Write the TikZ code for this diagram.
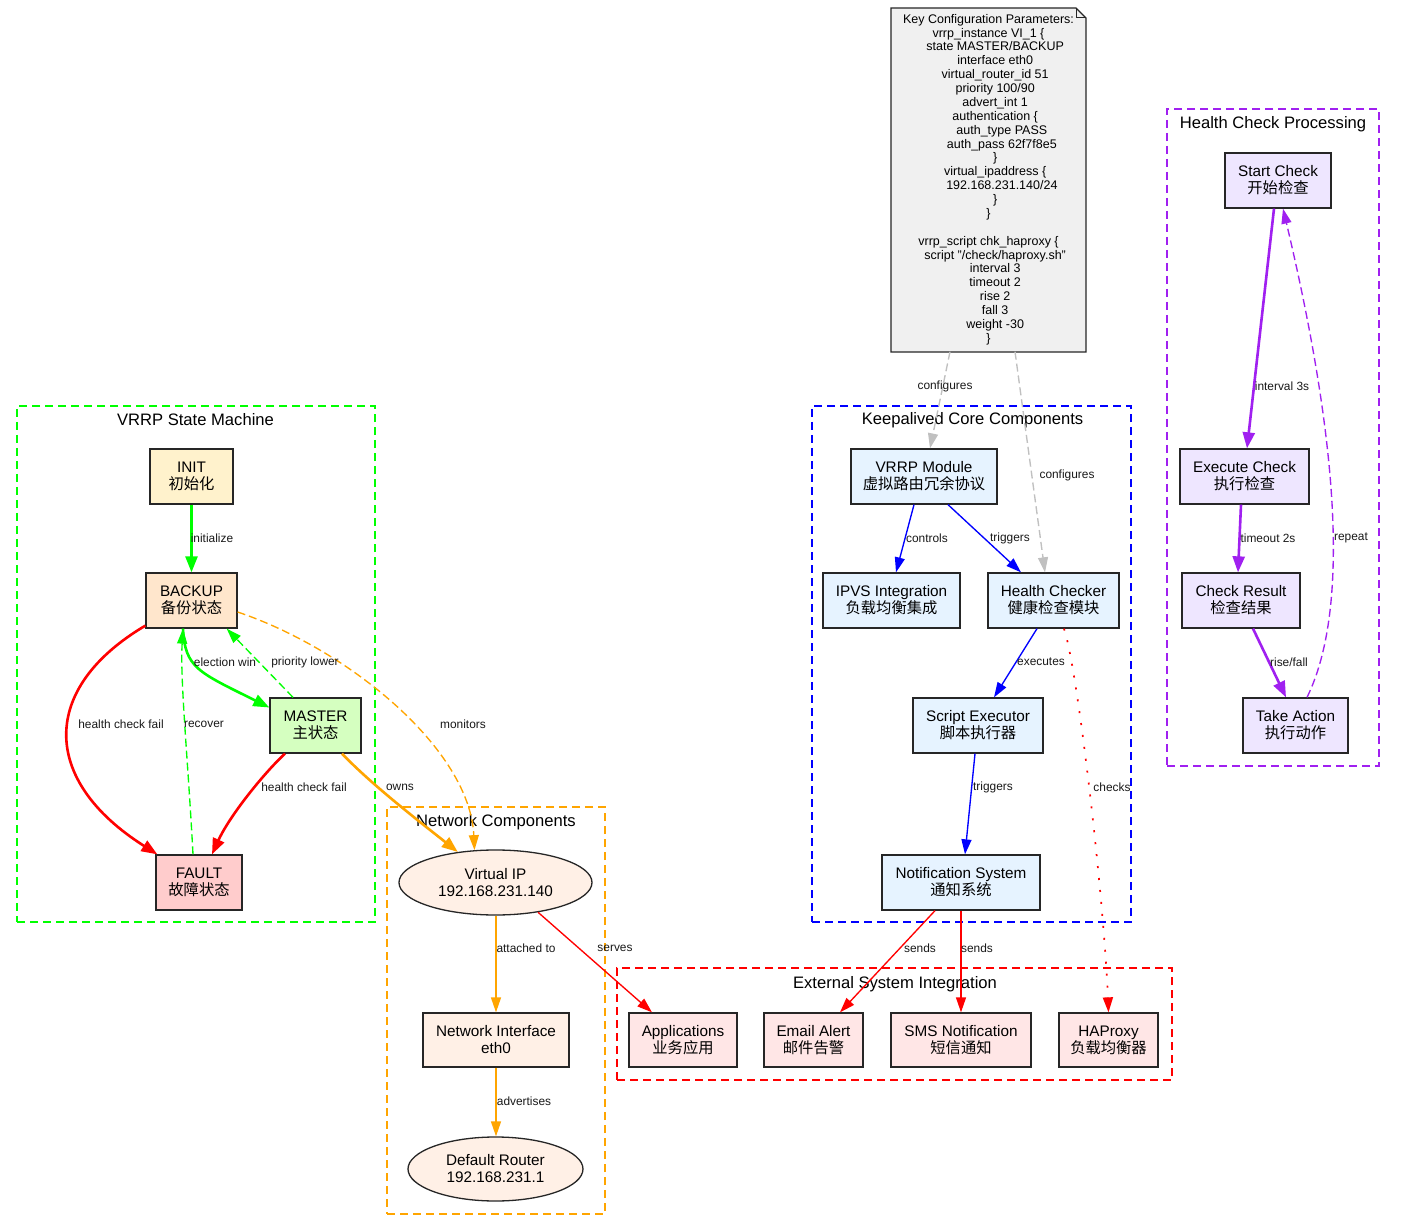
\documentclass[tikz,border=0pt]{standalone}
\usepackage{fontspec}
\setmainfont{Liberation Sans}
\newfontfamily\cjk{Noto Sans CJK SC}
\usetikzlibrary{arrows.meta,shapes.geometric}
\newcommand\nfont{\fontsize{15.3}{17}\selectfont}
\newcommand\tfont{\fontsize{16.6}{19}\selectfont}
\newcommand\lfont{\fontsize{11.9}{13}\selectfont}
\newcommand\cfgfont{\fontsize{12.5}{13.87}\selectfont}
\newcommand\ind[1]{\hspace*{#1pt}}
\definecolor{gGreen}{HTML}{00FF00}
\definecolor{gBlue}{HTML}{0000FF}
\definecolor{gRed}{HTML}{FF0000}
\definecolor{gOrange}{HTML}{FFA500}
\definecolor{gPurple}{HTML}{A020F0}
\definecolor{gGray}{HTML}{C0C0C0}
\definecolor{fInit}{HTML}{FFF2CC}
\definecolor{fBackup}{HTML}{FFE6CC}
\definecolor{fMaster}{HTML}{D5FFC0}
\definecolor{fFault}{HTML}{FFCCCC}
\definecolor{fCore}{HTML}{E6F3FF}
\definecolor{fHealth}{HTML}{EEE6FF}
\definecolor{fNet}{HTML}{FFF0E6}
\definecolor{fExt}{HTML}{FFE6E6}
\definecolor{fNote}{HTML}{F0F0F0}
\tikzset{
  box/.style={rectangle, draw=black!85, line width=1.3pt, fill=#1, minimum height=55pt,
    inner sep=0pt, align=center, font=\nfont},
  oval/.style={ellipse, draw=black!85, line width=1.3pt, fill=#1, inner sep=0pt,
    align=center, font=\nfont},
  cluster/.style={rectangle, draw=#1, line width=1.1pt, dash pattern=on 8pt off 5pt, inner sep=0pt},
  cltitle/.style={font=\tfont, inner sep=0pt},
  lbl/.style={font=\lfont, inner sep=0pt, text=black!90},
  ethin/.style={draw=#1, line width=1.35pt, -{Triangle[length=15pt,width=10pt]}},
  ethick/.style={draw=#1, line width=2.6pt, -{Triangle[length=16pt,width=12pt]}},
  dashedge/.style={dash pattern=on 8pt off 4pt},
  dotedge/.style={line width=1.7pt, dash pattern=on 2pt off 10pt}
}
\begin{document}
\begin{tikzpicture}[x=1pt,y=-1pt]
\fill[white] (0,0) rectangle (1414,1230);
\useasboundingbox (0,0) rectangle (1414,1230);

% clusters
\node[cluster=gGreen, minimum width=358pt, minimum height=516pt] (clVRRP) at (196,664) {};
\node[cluster=gBlue, minimum width=319pt, minimum height=516pt] (clCore) at (971.5,664) {};
\node[cluster=gPurple, minimum width=212pt, minimum height=657pt] (clHealth) at (1273,437.5) {};
\node[cluster=gOrange, minimum width=218pt, minimum height=407pt] (clNet) at (496,1010.5) {};
\node[cluster=gRed, minimum width=555pt, minimum height=112pt] (clExt) at (894.5,1024) {};
\node[cltitle] (tVRRP) at (195.5,420) {VRRP State Machine};
\node[cltitle] (tCore) at (972.5,420) {Keepalived Core Components};
\node[cltitle] (tHealth) at (1273,124) {Health Check Processing};
\node[cltitle] (tNet) at (496,822) {Network Components};
\node[cltitle] (tExt) at (895,984) {External System Integration};

% config note
\filldraw[fill=fNote, draw=black!85, line width=1.3pt]
  (891,352) -- (891,8) -- (1076,8) -- (1086,18) -- (1086,352) -- cycle;
\draw[black!85, line width=1pt] (1076,8) -- (1076,18) -- (1086,18);
\node[minimum width=195pt, minimum height=344pt, inner sep=0pt, align=center, font=\cfgfont] (cfg) at (988.5,179.5) {%
Key Configuration Parameters:\\
vrrp\_instance VI\_1 \{\\
\ind{13.3}state MASTER/BACKUP\\
\ind{13.3}interface eth0\\
\ind{13.3}virtual\_router\_id 51\\
\ind{13.3}priority 100/90\\
\ind{13.3}advert\_int 1\\
\ind{13.3}authentication \{\\
\ind{26.7}auth\_type PASS\\
\ind{26.7}auth\_pass 62f7f8e5\\
\ind{13.3}\}\\
\ind{13.3}virtual\_ipaddress \{\\
\ind{26.7}192.168.231.140/24\\
\ind{13.3}\}\\
\}\\
\mbox{}\\
vrrp\_script chk\_haproxy \{\\
\ind{13.3}script "/check/haproxy.sh"\\
\ind{13.3}interval 3\\
\ind{13.3}timeout 2\\
\ind{13.3}rise 2\\
\ind{13.3}fall 3\\
\ind{13.3}weight -30\\
\}};

% VRRP state machine nodes
\node[box=fInit, minimum width=83pt] (INIT) at (191.5,476.5) {INIT\\{\cjk 初始化}};
\node[box=fBackup, minimum width=91pt] (BACKUP) at (191.5,600.5) {BACKUP\\{\cjk 备份状态}};
\node[box=fMaster, minimum width=91pt] (MASTER) at (315.5,725.5) {MASTER\\{\cjk 主状态}};
\node[box=fFault, minimum width=86pt] (FAULT) at (199,882.5) {FAULT\\{\cjk 故障状态}};

% core nodes
\node[box=fCore, minimum width=146pt] (VRRPM) at (924,476.5) {VRRP Module\\{\cjk 虚拟路由冗余协议}};
\node[box=fCore, minimum width=137pt] (IPVS) at (891.5,600.5) {IPVS Integration\\{\cjk 负载均衡集成}};
\node[box=fCore, minimum width=131pt] (HC) at (1053.5,600.5) {Health Checker\\{\cjk 健康检查模块}};
\node[box=fCore, minimum width=130pt] (SE) at (978,725.5) {Script Executor\\{\cjk 脚本执行器}};
\node[box=fCore, minimum width=158pt] (NS) at (961,882.5) {Notification System\\{\cjk 通知系统}};

% health nodes
\node[box=fHealth, minimum width=106pt] (SC) at (1278,180.5) {Start Check\\{\cjk 开始检查}};
\node[box=fHealth, minimum width=129pt] (EC) at (1244.5,476.5) {Execute Check\\{\cjk 执行检查}};
\node[box=fHealth, minimum width=118pt] (CR) at (1241,600.5) {Check Result\\{\cjk 检查结果}};
\node[box=fHealth, minimum width=105pt] (TA) at (1295.5,725.5) {Take Action\\{\cjk 执行动作}};

% network nodes
\node[oval=fNet, minimum width=193pt, minimum height=65pt] (VIP) at (495.5,882.5) {Virtual IP\\192.168.231.140};
\node[box=fNet, minimum width=146pt, minimum height=54pt] (NI) at (496,1040) {Network Interface\\eth0};
\node[oval=fNet, minimum width=175pt, minimum height=64pt] (DR) at (495.5,1169) {Default Router\\192.168.231.1};

% external nodes
\node[box=fExt, minimum width=108pt, minimum height=54pt] (APP) at (683,1040) {Applications\\{\cjk 业务应用}};
\node[box=fExt, minimum width=99pt, minimum height=54pt] (EMAIL) at (813.5,1040) {Email Alert\\{\cjk 邮件告警}};
\node[box=fExt, minimum width=140pt, minimum height=54pt] (SMS) at (961,1040) {SMS Notification\\{\cjk 短信通知}};
\node[box=fExt, minimum width=99pt, minimum height=54pt] (HAP) at (1108.5,1040) {HAProxy\\{\cjk 负载均衡器}};

% ---- edges: state machine
\draw[ethick=gGreen] (INIT.south) -- (BACKUP.north);
\draw[ethick=gGreen] ([xshift=-8.5pt]BACKUP.south) .. controls (185,668) and (198,672) .. ([yshift=18pt]MASTER.west);
\draw[ethin=gGreen, dashedge] ([xshift=-22.5pt]MASTER.north) -- ([xshift=-11pt]BACKUP.south east);
\draw[ethick=gRed] ([yshift=3pt]BACKUP.south west) .. controls (40,688) and (40,780) .. ([xshift=2pt]FAULT.north west);
\draw[ethick=gRed] ([xshift=-30.5pt]MASTER.south) .. controls (265,772) and (230,815) .. ([xshift=13pt]FAULT.north);
\draw[ethin=gGreen, dashedge] ([xshift=-6pt]FAULT.north) .. controls (188,760) and (180,680) .. ([xshift=-8.5pt]BACKUP.south);
\draw[ethin=gOrange, dashedge] ([yshift=-11.5pt]BACKUP.east) .. controls (350,650) and (470,750) .. (VIP.123);
\draw[ethick=gOrange] ([xshift=26.5pt]MASTER.south) .. controls (372,785) and (420,822) .. (VIP.141);

% ---- edges: core
\draw[ethin=gGray, dashedge] ([xshift=-38.5pt]cfg.south) -- ([xshift=6pt]VRRPM.north);
\draw[ethin=gGray, dashedge] ([xshift=26.5pt]cfg.south) -- ([xshift=-8.5pt]HC.north);
\draw[ethin=gBlue] ([xshift=-10pt]VRRPM.south) -- ([xshift=4.5pt]IPVS.north);
\draw[ethin=gBlue] ([xshift=24pt]VRRPM.south) -- ([xshift=-32.5pt]HC.north);
\draw[ethin=gBlue] ([xshift=-16.5pt]HC.south) -- ([xshift=16pt]SE.north);
\draw[ethin=gRed, dotedge] ([xshift=10.5pt]HC.south) .. controls (1078,670) and (1104,900) .. (HAP.north);
\draw[ethin=gBlue] ([xshift=-3pt]SE.south) -- ([xshift=4pt]NS.north);
\draw[ethin=gRed] ([xshift=-26pt]NS.south) -- ([xshift=26.5pt]EMAIL.north);
\draw[ethin=gRed] (NS.south) -- (SMS.north);

% ---- edges: network
\draw[ethin=gOrange] ([xshift=0.5pt]VIP.south) -- (NI.north);
\draw[ethin=gRed] (VIP.-35) -- ([xshift=-31pt]APP.north);
\draw[ethin=gOrange] (NI.south) -- ([xshift=0.5pt]DR.north);

% ---- edges: health
\draw[ethick=gPurple] ([xshift=-4pt]SC.south) -- ([xshift=2.5pt]EC.north);
\draw[ethick=gPurple] ([xshift=-3.5pt]EC.south) -- ([xshift=-3pt]CR.north);
\draw[ethick=gPurple] ([xshift=12pt]CR.south) -- ([xshift=-9.5pt]TA.north);
\draw[ethin=gPurple, dashedge] ([xshift=11.5pt]TA.north) .. controls (1345,620) and (1345,470) .. ([xshift=5pt]SC.south);

% ---- edge labels
\node[lbl] (l1) at (212,538) {initialize};
\node[lbl] (l2) at (225,662) {election win};
\node[lbl] (l3) at (305,662) {priority lower};
\node[lbl] (l4) at (121,724) {health check fail};
\node[lbl] (l5) at (204,724) {recover};
\node[lbl] (l6) at (304,787) {health check fail};
\node[lbl] (l7) at (463,724) {monitors};
\node[lbl] (l8) at (400,787) {owns};
\node[lbl] (l9) at (945,386) {configures};
\node[lbl] (l10) at (1067,475) {configures};
\node[lbl] (l11) at (927,538) {controls};
\node[lbl] (l12) at (1010,538) {triggers};
\node[lbl] (l13) at (1041,662) {executes};
\node[lbl] (l14) at (993,787) {triggers};
\node[lbl] (l15) at (1112,787) {checks};
\node[lbl] (l16) at (920,948) {sends};
\node[lbl] (l17) at (977,948) {sends};
\node[lbl] (l18) at (615,948) {serves};
\node[lbl] (l19) at (526,948) {attached to};
\node[lbl] (l20) at (524,1101) {advertises};
\node[lbl] (l21) at (1282,386) {interval 3s};
\node[lbl] (l22) at (1268,538) {timeout 2s};
\node[lbl] (l23) at (1351,538) {repeat};
\node[lbl] (l24) at (1289,662) {rise/fall};
\end{tikzpicture}
\end{document}
